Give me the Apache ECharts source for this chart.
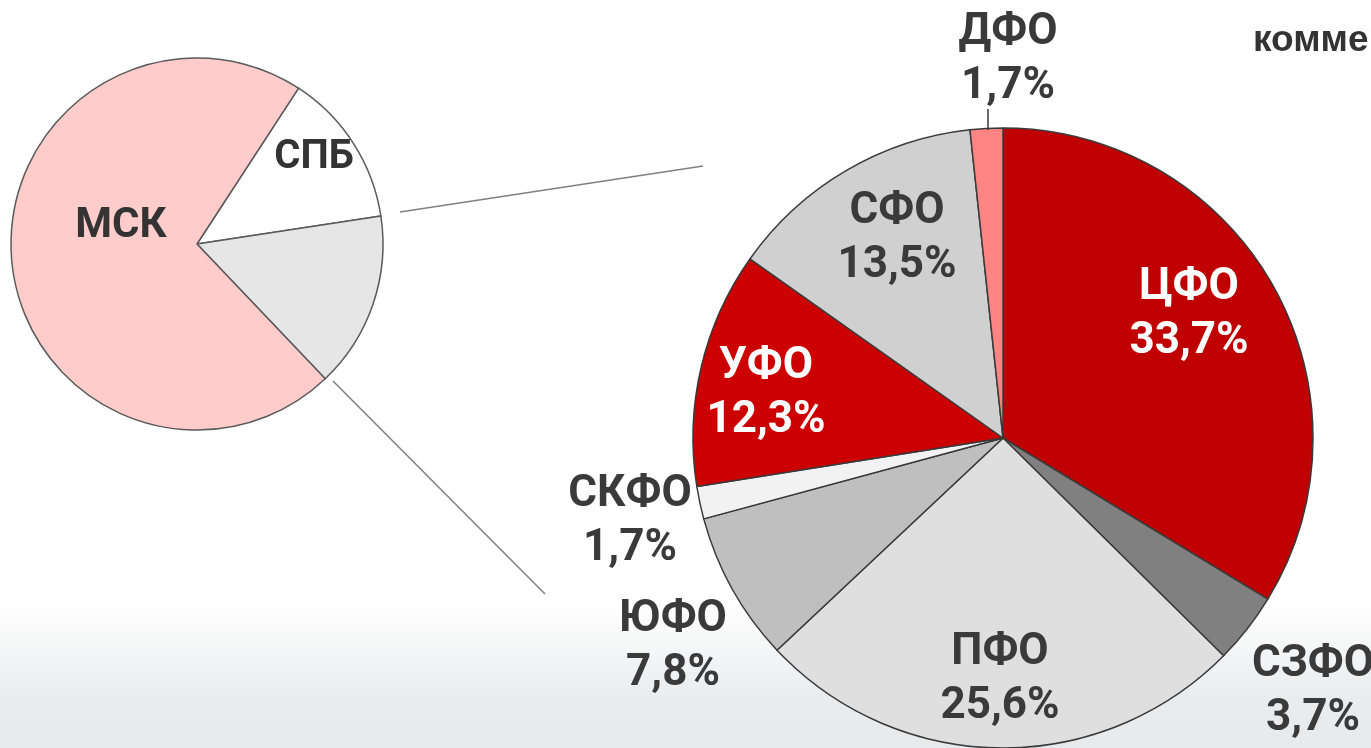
<!DOCTYPE html>
<html>
<head>
<meta charset="utf-8">
<script src="https://cdn.jsdelivr.net/npm/echarts@6/dist/echarts.min.js"></script>
<style>
html,body{margin:0;padding:0;background:#fff;}
#c{width:1371px;height:748px;}
</style>
</head>
<body>
<div id="c"></div>
<script>
// Data
var cityNames = ['СПБ', 'Прочие', 'МСК'];
var cityValues = [13.4, 15.3, 71.3];
var cityColors = ['#FFFFFF', '#E6E6E6', '#FFCCCC'];

var districtNames = ['ЦФО', 'СЗФО', 'ПФО', 'ЮФО', 'СКФО', 'УФО', 'СФО', 'ДФО'];
var districtValues = [33.7, 3.7, 25.6, 7.8, 1.7, 12.3, 13.5, 1.7];
var districtColors = ['#C00000', '#808080', '#DFDFDF', '#BFBFBF', '#F2F2F2', '#CC0000', '#D0D0D0', '#FF8585'];
var districtLabelColors = ['#FFFFFF', '#3A3A3A', '#3A3A3A', '#3A3A3A', '#3A3A3A', '#FFFFFF', '#3A3A3A', '#3A3A3A'];

// label anchor positions (layout only)
var districtLabelPos = [[1189, 315], [1313, 692], [1000, 680], [673, 647], [630, 522], [766, 394], [897, 239], [1008, 60]];
var cityLabelPos = [[314, 158], null, [121, 226]];

var FONT = "Roboto, 'Liberation Sans Narrow', 'DejaVu Sans Condensed', sans-serif";

var chart = echarts.init(document.getElementById('c'), null, {renderer: 'canvas'});

var option = {
  animation: false,
  backgroundColor: 'transparent',
  graphic: [
    {
      type: 'rect', z: -10, silent: true,
      shape: {x: 0, y: 0, width: 1371, height: 748},
      style: {
        fill: new echarts.graphic.LinearGradient(0, 0, 0, 1, [
          {offset: 0, color: '#FFFFFF'},
          {offset: 0.81, color: '#FFFFFF'},
          {offset: 0.93, color: '#EBECEE'},
          {offset: 1, color: '#E8E9EB'}
        ])
      }
    },
    {
      type: 'line', z: 1, silent: true,
      shape: {x1: 400, y1: 212, x2: 703, y2: 166},
      style: {stroke: '#808080', lineWidth: 1.5}
    },
    {
      type: 'line', z: 1, silent: true,
      shape: {x1: 333, y1: 381, x2: 545, y2: 594},
      style: {stroke: '#808080', lineWidth: 1.5}
    },
    {
      type: 'line', z: 10, silent: true,
      shape: {x1: 988, y1: 109, x2: 988, y2: 130},
      style: {stroke: '#3A3A3A', lineWidth: 1.5}
    },
    {
      type: 'text', z: 10, silent: true,
      left: 1253, top: 22,
      style: {
        text: 'коммерческие',
        font: "bold 37px 'Liberation Sans', Arial, sans-serif",
        fill: '#333333'
      }
    }
  ],
  series: [
    {
      type: 'pie',
      silent: true,
      center: [197, 244],
      radius: [0, 186],
      startAngle: 56.9,
      clockwise: true,
      avoidLabelOverlap: false,
      itemStyle: {borderColor: '#5A5A5A', borderWidth: 1.5},
      label: {
        show: true,
        position: 'inside',
        formatter: '{b}',
        fontFamily: FONT,
        fontWeight: 'bold',
        fontSize: 42,
        color: '#333333'
      },
      labelLine: {show: false},
      labelLayout: function (p) {
        var pos = cityLabelPos[p.dataIndex];
        if (!pos) return {};
        return {x: pos[0], y: pos[1], align: 'center', verticalAlign: 'middle'};
      },
      data: cityNames.map(function (n, i) {
        return {
          name: n, value: cityValues[i],
          itemStyle: {color: cityColors[i]},
          label: {show: cityLabelPos[i] !== null, fontSize: i === 0 ? 40 : 42}
        };
      })
    },
    {
      type: 'pie',
      silent: true,
      center: [1003, 438],
      radius: [0, 310],
      startAngle: 90,
      clockwise: true,
      avoidLabelOverlap: false,
      itemStyle: {borderColor: '#3A3A3A', borderWidth: 1.5},
      label: {
        show: true,
        position: 'inside',
        formatter: function (p) {
          return p.name + '\n' + String(p.value).replace('.', ',') + '%';
        },
        fontFamily: FONT,
        fontWeight: 'bold',
        fontSize: 44,
        lineHeight: 54,
        align: 'center'
      },
      labelLine: {show: false},
      labelLayout: function (p) {
        var pos = districtLabelPos[p.dataIndex];
        return {x: pos[0], y: pos[1], align: 'center', verticalAlign: 'middle'};
      },
      data: districtNames.map(function (n, i) {
        return {
          name: n, value: districtValues[i],
          itemStyle: {color: districtColors[i]},
          label: {color: districtLabelColors[i]}
        };
      })
    }
  ]
};
chart.setOption(option);
</script>
</body>
</html>
